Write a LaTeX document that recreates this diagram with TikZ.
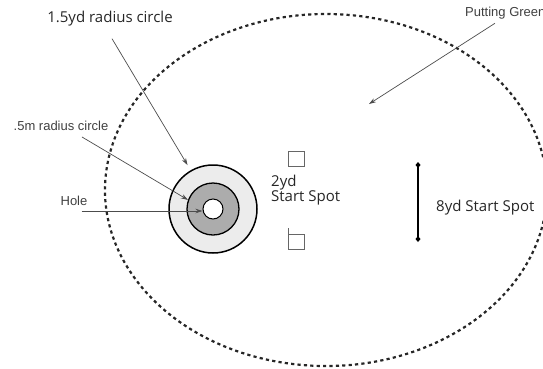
\documentclass[tikz,border=0pt]{standalone}
\usepackage{fontspec}
\setmainfont{Open Sans}
\newfontfamily\arialfont{Liberation Sans}
\usetikzlibrary{arrows.meta,positioning,calc}

\begin{document}
\begin{tikzpicture}[x=1pt,y=-1pt,
  txt/.style={font=\fontsize{15}{15}\selectfont,text=black!85,inner sep=2pt},
  lab/.style={font=\arialfont\fontsize{13}{14}\selectfont,text=black!75,inner sep=2pt},
  ptr/.style={-{Stealth[length=7pt,width=4.5pt]},draw=black!70,line width=0.7pt},
  spot/.style={draw=black!60,line width=0.7pt,minimum width=16pt,minimum height=15pt,inner sep=0pt},
  ring/.style={circle,draw,inner sep=0pt}]
\useasboundingbox (0,0) rectangle (543,368);
% putting green boundary, open where the 8yd label sits
\draw[line width=2.2pt,black!85,dash pattern=on 3.2pt off 3.2pt]
  ([shift={(8:221 and 176)}]326,190) arc[start angle=8,end angle=350,x radius=221,y radius=176];
% hole with its two circles
\node[ring,fill=gray!15,line width=1.5pt,minimum size=88pt] (outer) at (213,209) {};
\node[ring,fill=gray!65,line width=1.3pt,minimum size=52pt] (mid) at (213,209) {};
\node[ring,fill=white,line width=1pt,minimum size=20pt] (hole) at (213,209) {};
% labels
\node[txt] (r15lab) at (110,19) {1.5yd radius circle};
\node[lab] (r05lab) at (61,126) {.5m radius circle};
\node[lab] (holelab) at (74,201) {Hole};
\node[lab,anchor=west] (greenlab) at (463,13) {Putting Green};
\coordinate (greenpt) at (369,104);
% start spots
\node[spot] (spotA) at (296,159) {};
\node[spot] (spotB) at (296.5,241.5) {};
\draw[black!60,line width=0.7pt] (spotB.north west) -- ++(0,-6);
\node[txt,align=left,anchor=west] (twolab) at (269,190) {2yd\\Start Spot};
\coordinate (top8) at (418,162);
\coordinate (bot8) at (418,242);
\draw[line width=2pt,{Diamond[length=6pt,width=5pt]}-{Diamond[length=6pt,width=5pt]}] (top8) -- (bot8);
\node[txt,anchor=west] (eightlab) at (434,208) {8yd Start Spot};
% pointers
\draw[ptr,shorten >=6pt] ([xshift=2pt,yshift=-10pt]r15lab.south) -- (outer.120);
\draw[ptr] ([xshift=21pt,yshift=-4pt]r05lab.south) -- (mid.160);
\draw[ptr] ($(holelab.east |- hole.west)+(-8,2)$) -- ($(hole.west)+(0,2)$);
\draw[ptr] ([xshift=32pt,yshift=-2pt]greenlab.south west) -- (greenpt);
\end{tikzpicture}
\end{document}
